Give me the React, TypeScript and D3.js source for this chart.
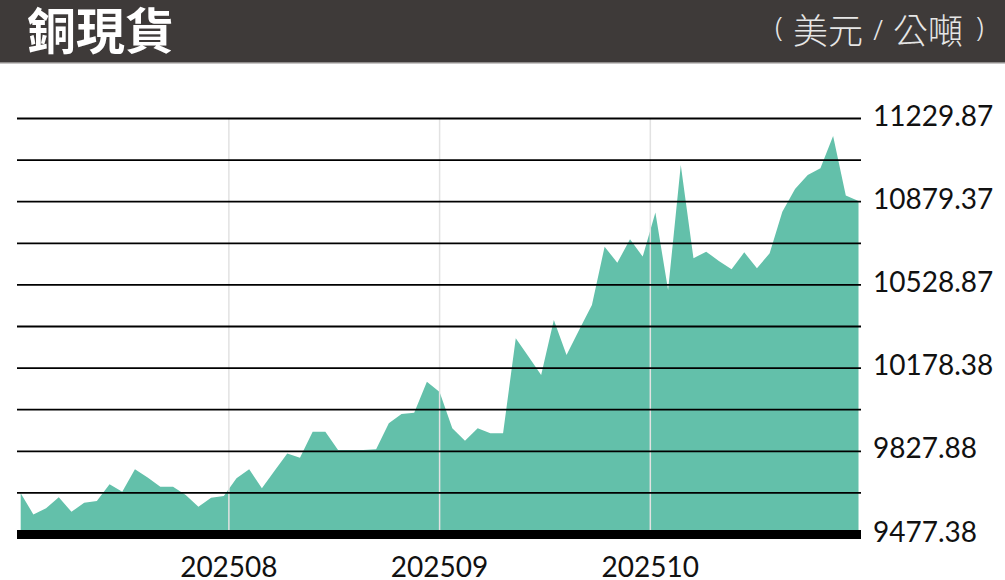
import React from 'react';
import * as d3 from 'd3';

// copper spot price (USD / tonne), one value per sample point
const prices = [
  9651, 9562, 9588, 9634, 9573, 9611, 9618, 9689, 9658, 9752, 9717, 9679, 9679, 9644, 9594, 9632, 9640,
  9714, 9752, 9672, 9746, 9819, 9801, 9910, 9910, 9833, 9833, 9833, 9837, 9946, 9985, 9990, 10121, 10078,
  9925, 9872, 9925, 9904, 9904, 10304, 10227, 10149, 10381, 10234, 10340, 10444, 10690, 10622, 10721, 10648,
  10834, 10507, 11034, 10641, 10669, 10630, 10595, 10666, 10599, 10662, 10837, 10933, 10992, 11020, 11156,
  10905, 10882,
];

// month boundaries, as fractional sample index
const monthBreaks = [16.4, 33.0, 49.6];
const monthLabels = ['202508', '202509', '202510'];

const yMin = 9477.38;
const yMax = 11229.87;
const gridCount = 10;
const tickLabels = ['9477.38', '9827.88', '10178.38', '10528.87', '10879.37', '11229.87'];

const title = '銅現貨';
const unitParts = ['美元', '/', '公噸'];

const W = 1005;
const H = 580;

const App = () => {
  const x = d3.scaleLinear().domain([0, prices.length - 1]).range([20.7, 858.5]);
  const y = d3.scaleLinear().domain([yMin, yMax]).range([534.5, 118.5]);

  const area = d3
    .area<number>()
    .x((d, i) => x(i))
    .y0(y(yMin))
    .y1((d) => y(d));

  const step = (yMax - yMin) / gridCount;
  const grid = d3.range(gridCount + 1).map((i) => yMin + i * step);

  const numFont = 'Lato, "Noto Sans", sans-serif';
  const cjkFont = '"Noto Sans CJK TC", "Noto Sans CJK SC", sans-serif';

  return (
    <svg width={W} height={H} style={{ position: 'absolute', left: 0, top: 0, background: '#fff' }}>
      {/* header */}
      <rect x={0} y={0} width={W} height={62} fill="#3e3a39" />
      <rect x={0} y={62} width={W} height={1.5} fill="#8f8c8b" />
      <text x={27} y={49} fill="#fff" fontFamily={cjkFont} fontWeight={700} fontSize={49}>
        {title}
      </text>
      <g fill="#e6e6e6" fontFamily={cjkFont} fontWeight={300}>
        <text x={775} y={37} fontFamily='"Noto Sans", sans-serif' fontSize={28}>(</text>
        <text x={793} y={44} fontSize={35}>{unitParts[0]}</text>
        <text x={878} y={40} fontSize={28} textAnchor="middle" fontFamily='"Noto Sans", sans-serif'>
          {unitParts[1]}
        </text>
        <text x={893} y={44} fontSize={35}>{unitParts[2]}</text>
        <text x={976} y={37} fontFamily='"Noto Sans", sans-serif' fontSize={28}>)</text>
      </g>

      {/* area */}
      <path d={area(prices) || ''} fill="#63c0aa" />

      {/* month dividers */}
      {monthBreaks.map((m, i) => (
        <g key={monthLabels[i]}>
          <line x1={x(m)} x2={x(m)} y1={y(yMax)} y2={530} stroke="#e2e2e2" strokeWidth={1.5} />
          <text x={x(m)} y={577} textAnchor="middle" fontFamily={numFont} fontSize={28} fill="#111">
            {monthLabels[i]}
          </text>
        </g>
      ))}

      {/* horizontal grid */}
      {grid.slice(1).map((g) => (
        <line key={g} x1={17} x2={861} y1={y(g)} y2={y(g)} stroke="#000" strokeWidth={1.8} />
      ))}
      <rect x={17} y={530} width={844} height={9} fill="#000" />

      {/* value labels */}
      {tickLabels.map((t, i) => (
        <text key={t} x={873} y={y(grid[i * 2]) + 7} fontFamily={numFont} fontSize={28} fill="#111">
          {t}
        </text>
      ))}
    </svg>
  );
};

export default App;
